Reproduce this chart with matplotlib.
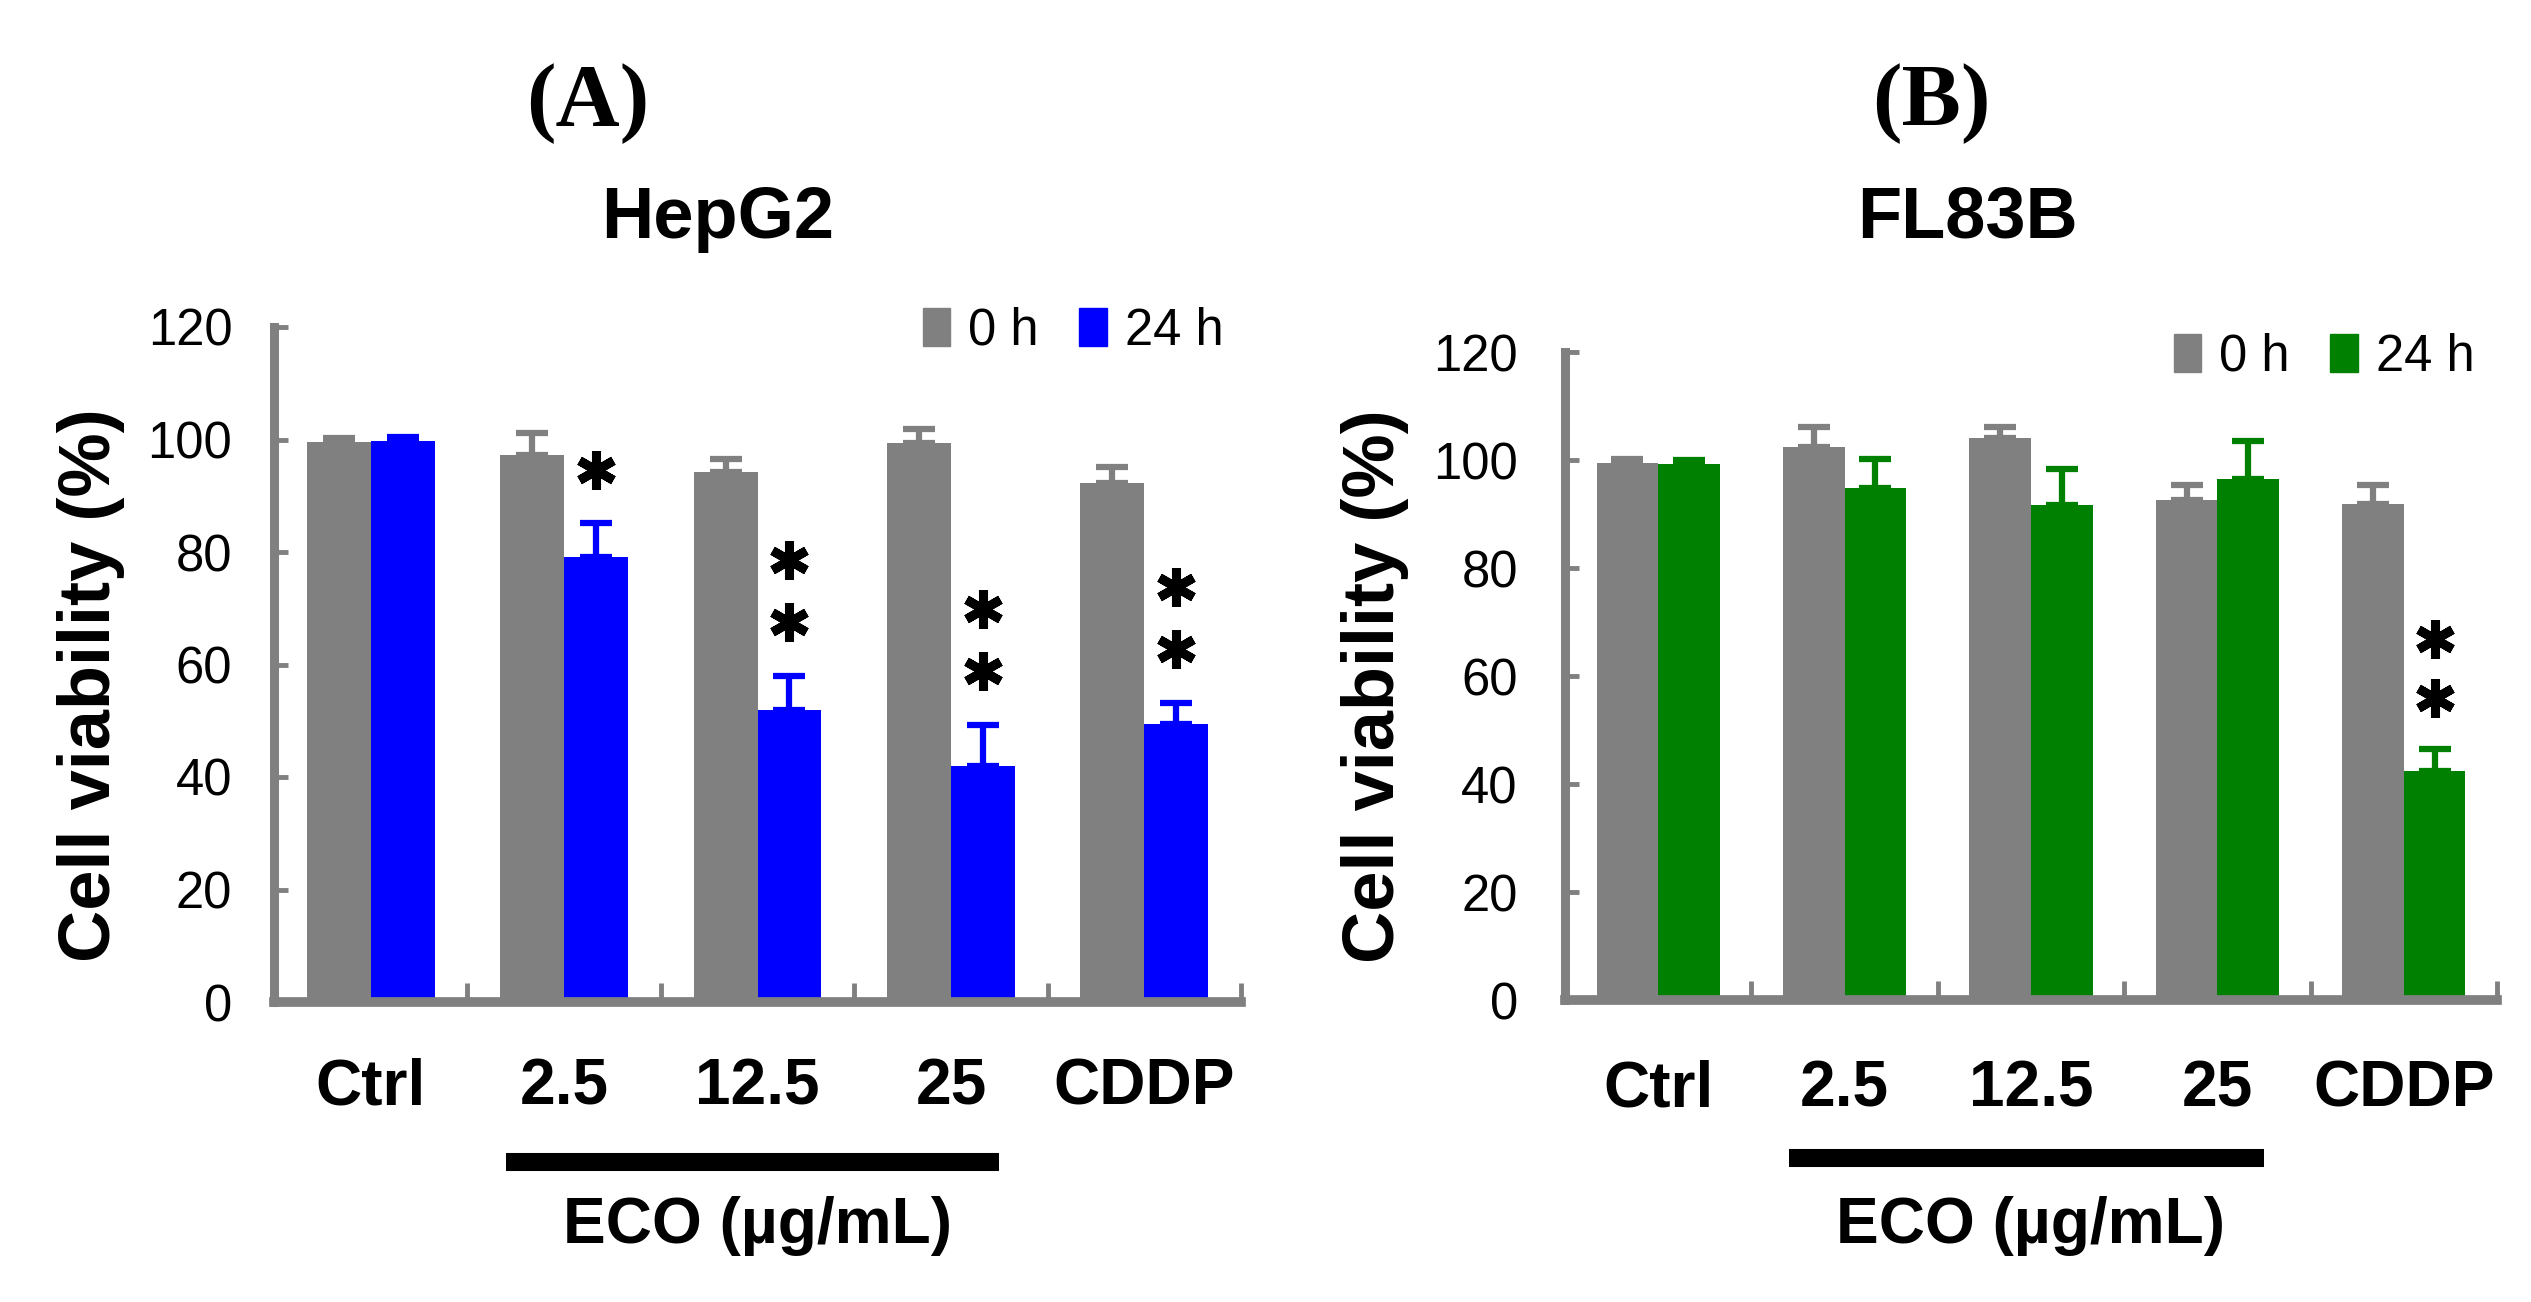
import numpy as np
import matplotlib
matplotlib.use("Agg")
import matplotlib.pyplot as plt
from matplotlib import font_manager
from matplotlib.patches import Patch
from matplotlib.transforms import blended_transform_factory

# data
groups = ["Ctrl", "2.5", "12.5", "25", "CDDP"]

hepg2_0h = [99.5, 97.2, 94.3, 99.3, 92.2]
hepg2_0h_err = [0.8, 4.0, 2.3, 2.6, 3.0]
hepg2_24h = [99.8, 79.1, 52.0, 41.9, 49.4]
hepg2_24h_err = [0.6, 6.0, 6.0, 7.4, 3.8]
hepg2_stars = [0, 1, 2, 2, 2]

fl83b_0h = [99.5, 102.4, 104.0, 92.6, 91.9]
fl83b_0h_err = [0.6, 3.7, 2.1, 2.8, 3.4]
fl83b_24h = [99.2, 94.9, 91.7, 96.4, 42.4]
fl83b_24h_err = [0.8, 5.3, 6.6, 7.1, 4.0]
fl83b_stars = [0, 0, 0, 0, 2]

GRAY = "#808080"
BLUE = "#0000FF"
GREEN = "#008000"

# the original uses a condensed face; use it if present, else shrink Liberation Sans
names = {f.name for f in font_manager.fontManager.ttflist}
if "Liberation Sans Narrow" in names:
    NARROW, SHRINK = "Liberation Sans Narrow", 1.0
else:
    NARROW, SHRINK = "Liberation Sans", 0.87

fig = plt.figure(figsize=(25.31, 13.02), dpi=100)


def panel(rect, v0, e0, v24, e24, stars, color, tickpad, labpad, leg_xy, bar_y, eco_y):
    ax = fig.add_axes(rect)
    x = np.arange(len(groups))
    w = 0.33
    ekw0 = dict(ecolor=GRAY, elinewidth=4.5, capsize=11.5, capthick=4.5)
    ekw24 = dict(ecolor=color, elinewidth=4.5, capsize=11.5, capthick=4.5)
    ax.bar(x - w / 2, v0, w, color=GRAY, yerr=[np.zeros(len(x)), e0], error_kw=ekw0, zorder=2)
    ax.bar(x + w / 2, v24, w, color=color, yerr=[np.zeros(len(x)), e24], error_kw=ekw24, zorder=2)

    # significance asterisks above the 24 h bars
    for xi, top, err, n in zip(x, v24, e24, stars):
        for k in range(n):
            ax.plot(xi + w / 2, top + err + 9.5 + 11 * k, marker=(6, 2, 0), ms=28, mew=6.5,
                    color="black", zorder=5, clip_on=False)

    ax.set_xlim(-0.5, len(groups) - 0.5)
    ax.set_ylim(0, 120)
    ax.set_yticks(range(0, 121, 20))
    ax.set_xticks(x)
    ax.set_xticklabels(groups, fontfamily=NARROW, fontweight="bold", fontsize=53 * SHRINK)
    ax.set_xticks(np.arange(0.5, len(groups), 1.0), minor=True)
    for lab in ax.get_yticklabels():
        lab.set_fontfamily(NARROW)
        lab.set_fontsize(42 * SHRINK)
    ax.tick_params(axis="x", which="major", length=0, pad=labpad)
    ax.tick_params(axis="x", which="minor", direction="in", length=14, width=3.5, color=GRAY)
    ax.tick_params(axis="y", direction="in", length=10, width=3.5, color=GRAY, pad=tickpad)
    for s in ["top", "right"]:
        ax.spines[s].set_visible(False)
    ax.spines["left"].set_linewidth(6.5)
    ax.spines["left"].set_color(GRAY)
    ax.spines["bottom"].set_linewidth(7)
    ax.spines["bottom"].set_color(GRAY)
    ax.spines["bottom"].set_zorder(3)
    ax.spines["left"].set_zorder(3)

    handles = [Patch(color=GRAY, label="0 h"), Patch(color=color, label="24 h")]
    ax.legend(handles=handles, ncol=2, loc="center right", bbox_to_anchor=leg_xy,
              frameon=False, handlelength=0.55, handleheight=0.8, handletextpad=0.35,
              columnspacing=0.8, borderpad=0, borderaxespad=0,
              prop=dict(family=NARROW, size=42 * SHRINK))

    tr = blended_transform_factory(ax.transData, ax.transAxes)
    ax.plot([0.7, 3.25], [bar_y, bar_y], color="black", lw=13, solid_capstyle="butt",
            transform=tr, clip_on=False)
    ax.text(2.0, eco_y, "ECO (\u00b5g/mL)", transform=tr, ha="center", va="center",
            fontfamily=NARROW, fontweight="bold", fontsize=53 * SHRINK)
    return ax


panel([274 / 2531, 1 - 1002 / 1302, 967 / 2531, 675 / 1302],
      hepg2_0h, hepg2_0h_err, hepg2_24h, hepg2_24h_err, hepg2_stars, BLUE,
      30, 40, (0.982, 0.994), -0.237, -0.332)
panel([1565 / 2531, 1 - 1000 / 1302, 932 / 2531, 648 / 1302],
      fl83b_0h, fl83b_0h_err, fl83b_24h, fl83b_24h_err, fl83b_stars, GREEN,
      34, 43, (0.976, 0.992), -0.244, -0.349)

# panel letters, cell line titles, y labels
fig.text(588 / 2531, 1 - 125 / 1302, "(A)", ha="center", va="baseline",
         fontfamily="Liberation Serif", fontweight="bold", fontsize=64)
fig.text(1931 / 2531, 1 - 125 / 1302, "(B)", ha="center", va="baseline",
         fontfamily="Liberation Serif", fontweight="bold", fontsize=64)
fig.text(718 / 2531, 1 - 238 / 1302, "HepG2", ha="center", va="baseline",
         fontfamily="Liberation Sans", fontweight="bold", fontsize=52)
fig.text(1967 / 2531, 1 - 238 / 1302, "FL83B", ha="center", va="baseline",
         fontfamily="Liberation Sans", fontweight="bold", fontsize=52)
fig.text(91 / 2531, 1 - 685 / 1302, "Cell viability (%)", rotation=90, ha="center",
         va="center", fontfamily="Liberation Sans", fontweight="bold", fontsize=52)
fig.text(1375 / 2531, 1 - 686 / 1302, "Cell viability (%)", rotation=90, ha="center",
         va="center", fontfamily="Liberation Sans", fontweight="bold", fontsize=52)

fig.savefig("out.png", dpi=100, facecolor="white")
